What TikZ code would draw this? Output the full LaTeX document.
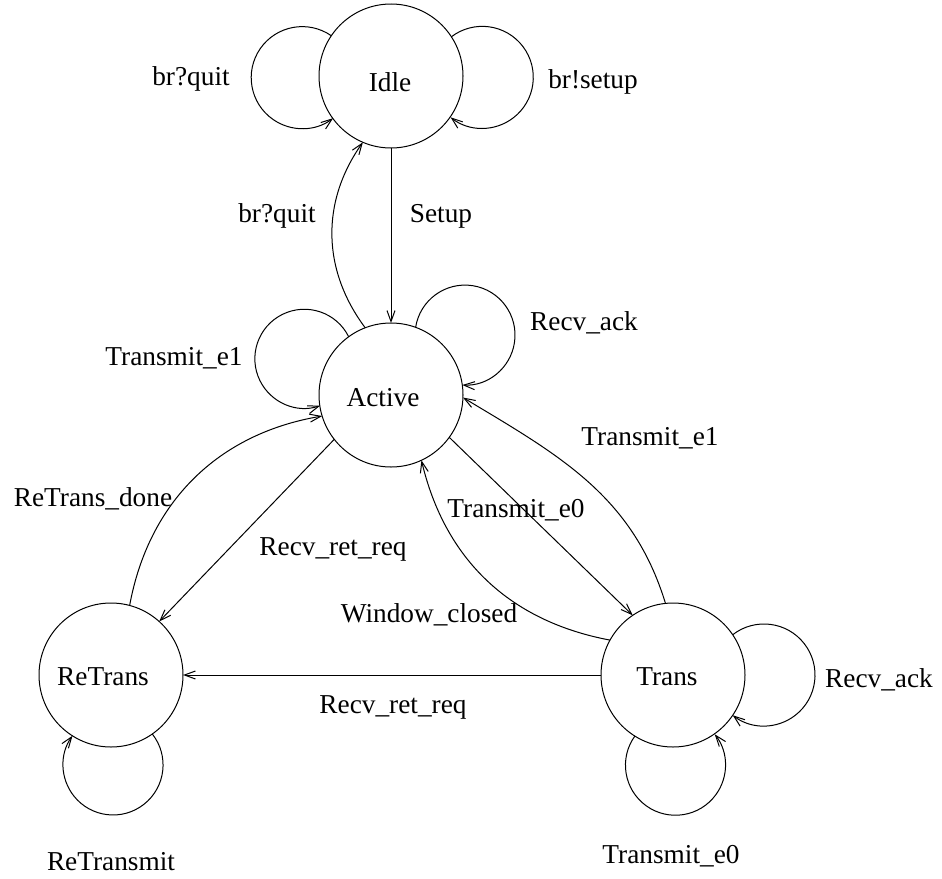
\documentclass[tikz,border=0pt]{standalone}
\usepackage{fontspec}
\setmainfont{Liberation Serif}
\usetikzlibrary{arrows.meta}
\begin{document}
\begin{tikzpicture}[x=1pt,y=1pt,
  state/.style={circle,draw,line width=1pt,minimum size=144pt,inner sep=0pt,outer sep=0pt},
  lbl/.style={font=\fontsize{27.3}{30}\selectfont,inner sep=0pt,anchor=base},
  arr/.style={line width=1pt,-{Straight Barb[length=11pt,width=8pt]}}]
\useasboundingbox (0,0) rectangle (942,-878);
% states
\node[state] (Idle) at (391,-76) {};
\node[state] (Active) at (391,-395) {};
\node[state] (ReTrans) at (111,-675) {};
\node[state] (Trans) at (673,-675) {};
\node[lbl] (tIdle) at (390,-91) {Idle};
\node[lbl] (tActive) at (383,-406) {Active};
\node[lbl] (tReTrans) at (103,-685) {ReTrans};
\node[lbl] (tTrans) at (667,-685) {Trans};
% self loops
\draw[arr] (Idle.146) arc[start angle=55.2, end angle=307.3, radius=51];
\draw[arr] (Idle.33) arc[start angle=127.3, end angle=-128.5, radius=51];
\draw[arr] (Active.126) arc[start angle=26.4, end angle=288.6, radius=49.5];
\draw[arr] (Active.70) arc[start angle=171.1, end angle=-93.1, radius=50];
\draw[arr] (Trans.34) arc[start angle=127.9, end angle=-127.9, radius=51];
\draw[arr] (Trans.238) arc[start angle=144.3, end angle=398.3, radius=50];
\draw[arr] (ReTrans.305) arc[start angle=38.3, end angle=-215.7, radius=50];
% transitions
\draw[arr] (Idle) -- (Active);
\draw[arr] (Active.111) to[bend left=36] (Idle.247);
\draw[arr] (Active.218) -- (ReTrans.48);
\draw[arr] (ReTrans.75) to[bend left=35] (Active.197);
\draw[arr] (Active.-36) -- (Trans.124);
\draw[arr] (Trans.151) to[bend left=33] (Active.-65);
\draw[arr] (Trans.96) to[out=107,in=-31] (Active.-2);
\draw[arr] (Trans) -- (ReTrans);
% labels
\node[lbl] (l1) at (191,-85) {br?quit};
\node[lbl] (l2) at (593,-88) {br!setup};
\node[lbl] (l3) at (277,-222) {br?quit};
\node[lbl] (l4) at (441,-222) {Setup};
\node[lbl] (l5) at (174,-365) {Transmit\_e1};
\node[lbl] (l6) at (584,-330) {Recv\_ack};
\node[lbl] (l7) at (650,-445) {Transmit\_e1};
\node[lbl] (l8) at (93,-506) {ReTrans\_done};
\node[lbl] (l9) at (333,-555) {Recv\_ret\_req};
\node[lbl] (l10) at (516,-517) {Transmit\_e0};
\node[lbl] (l11) at (429,-622) {Window\_closed};
\node[lbl] (l12) at (393,-713) {Recv\_ret\_req};
\node[lbl] (l13) at (879,-687) {Recv\_ack};
\node[lbl] (l14) at (671,-863) {Transmit\_e0};
\node[lbl] (l15) at (111,-870) {ReTransmit};
\end{tikzpicture}
\end{document}
